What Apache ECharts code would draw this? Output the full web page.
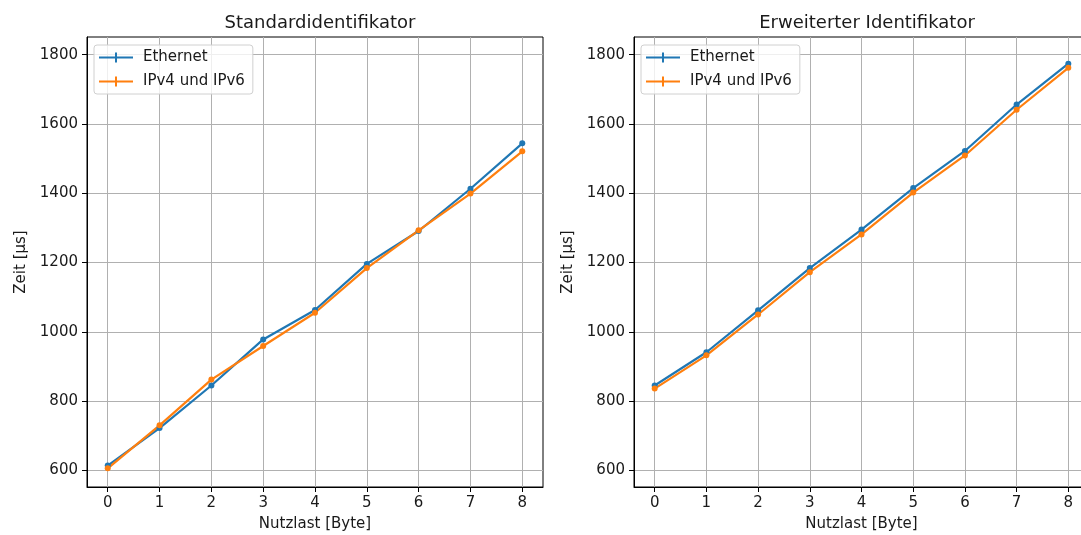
<!DOCTYPE html>
<html>
<head>
<meta charset="utf-8">
<script src="https://cdn.jsdelivr.net/npm/echarts@6/dist/echarts.min.js"></script>
<style>
  html, body { margin: 0; background: #fff; }
  #chart { width: 1081px; height: 535px; }
</style>
</head>
<body>
<div id="chart"></div>
<script>
// Nutzlast in Byte (x), Zeit in µs (y)
const nutzlast = [0, 1, 2, 3, 4, 5, 6, 7, 8];
const stdEthernet = [614, 722, 845, 978, 1063, 1196, 1291, 1413, 1544];
const stdIp = [606, 730, 862, 959, 1055, 1184, 1293, 1399, 1521];
const extEthernet = [845, 941, 1062, 1184, 1295, 1415, 1522, 1656, 1774];
const extIp = [836, 932, 1050, 1172, 1281, 1402, 1509, 1641, 1762];
const xTicks = [0, 1, 2, 3, 4, 5, 6, 7, 8];
const yTicks = [600, 800, 1000, 1200, 1400, 1600, 1800];
const titles = ['Standardidentifikator', 'Erweiterter Identifikator'];
const seriesNames = ['Ethernet', 'IPv4 und IPv6'];

const font = 'DejaVu Sans';
const ink = '#1a1a1a';
const blue = '#1f77b4';
const orange = '#ff7f0e';
const pairs = ys => nutzlast.map((x, i) => [x, ys[i]]);

const xAxisFor = g => ({
  type: 'value', gridIndex: g, min: -0.4, max: 8.4,
  name: 'Nutzlast [Byte]', nameLocation: 'middle', nameGap: 30,
  nameTextStyle: { color: ink, fontSize: 15, fontFamily: font },
  axisLine: { show: true, onZero: false, lineStyle: { color: '#000', width: 1 } },
  axisTick: { show: true, length: 5, customValues: xTicks, lineStyle: { color: '#000' } },
  axisLabel: { customValues: xTicks, color: ink, fontSize: 15, fontFamily: font, margin: 9 },
  splitLine: { show: true, lineStyle: { color: '#b0b0b0', width: 1 } }
});

const yAxisFor = g => ({
  type: 'value', gridIndex: g, min: 552, max: 1851,
  name: 'Zeit [µs]', nameLocation: 'middle', nameGap: 58,
  nameTextStyle: { color: ink, fontSize: 15, fontFamily: font },
  axisLine: { show: true, onZero: false, lineStyle: { color: '#000', width: 1 } },
  axisTick: { show: true, length: 5, customValues: yTicks, lineStyle: { color: '#000' } },
  axisLabel: { customValues: yTicks, formatter: v => String(v), color: ink, fontSize: 15, fontFamily: font, margin: 9 },
  splitLine: { show: true, lineStyle: { color: '#b0b0b0', width: 1 } }
});

const lineSeries = (name, data, color, g) => ({
  name, type: 'line', xAxisIndex: g, yAxisIndex: g,
  data: pairs(data), color,
  symbol: 'circle', symbolSize: 6, showSymbol: true,
  lineStyle: { width: 2.2, color }, itemStyle: { color }
});

const legendFor = (g, left) => ({
  data: seriesNames, orient: 'vertical', left, top: 45,
  icon: 'path://M0,4h34v2H0z M16,0h2v10h-2z',
  itemWidth: 34, itemHeight: 10, itemGap: 7,
  padding: [4, 8, 4, 5],
  backgroundColor: 'rgba(255,255,255,0.8)', borderColor: '#d0d0d0', borderWidth: 1, borderRadius: 3,
  textStyle: { color: ink, fontSize: 15, fontFamily: font, lineHeight: 17, padding: [0, 0, 0, 5] }
});

const chart = echarts.init(document.getElementById('chart'));
chart.setOption({
  animation: false,
  backgroundColor: '#fff',
  title: [
    { text: titles[0], left: 315, top: 9, textAlign: 'center', textStyle: { color: ink, fontSize: 18, fontWeight: 'normal', fontFamily: font } },
    { text: titles[1], left: 862, top: 9, textAlign: 'center', textStyle: { color: ink, fontSize: 18, fontWeight: 'normal', fontFamily: font } }
  ],
  legend: [legendFor(0, 94), legendFor(1, 641)],
  grid: [
    { left: 87, right: 538, top: 37, bottom: 48, show: true, borderColor: '#000', borderWidth: 1, outerBoundsMode: 'none' },
    { left: 634, right: -8, top: 37, bottom: 48, show: true, borderColor: '#000', borderWidth: 1, outerBoundsMode: 'none' }
  ],
  xAxis: [xAxisFor(0), xAxisFor(1)],
  yAxis: [yAxisFor(0), yAxisFor(1)],
  series: [
    lineSeries(seriesNames[0], stdEthernet, blue, 0),
    lineSeries(seriesNames[1], stdIp, orange, 0),
    lineSeries(seriesNames[0], extEthernet, blue, 1),
    lineSeries(seriesNames[1], extIp, orange, 1)
  ]
});
</script>
</body>
</html>
